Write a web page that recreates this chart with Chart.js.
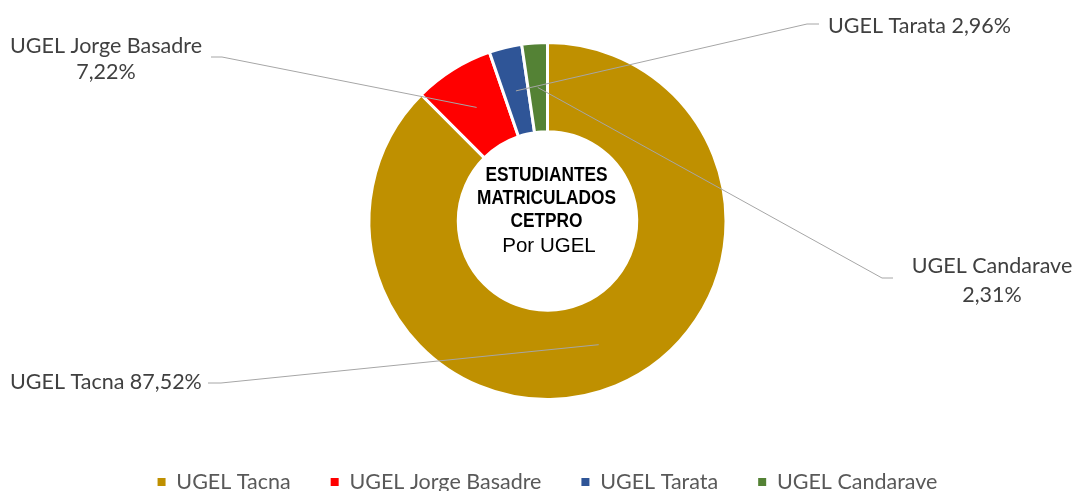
<!DOCTYPE html>
<html>
<head>
<meta charset="utf-8">
<script src="https://cdn.jsdelivr.net/npm/chart.js@4/dist/chart.umd.min.js"></script>
<style>
  html, body { margin: 0; padding: 0; background: #ffffff; }
  #wrap { position: relative; width: 1075px; height: 491px; }
</style>
</head>
<body>
<div id="wrap"><canvas id="c" width="1075" height="491"></canvas></div>
<script>
// ---- Data ----
const categories = ['UGEL Tacna', 'UGEL Jorge Basadre', 'UGEL Tarata', 'UGEL Candarave'];
const percentages = [87.52, 7.22, 2.96, 2.31];
const sliceColors = ['#BF9000', '#FF0000', '#2F5597', '#548235'];
const centerTitleLines = ['ESTUDIANTES', 'MATRICULADOS', 'CETPRO'];
const centerSubtitle = 'Por UGEL';

// ---- Label layout (annotation placement) ----
const LABEL_FONT = '21.5px Lato, "Open Sans", sans-serif';
const labelLayout = [
  // Tacna
  { split: false, align: 'left', x: 10, baselines: [389], elbow: [[208, 383], [221, 383]] },
  // Jorge Basadre
  { split: true, align: 'center', x: 106, baselines: [52.5, 78.5], elbow: [[211, 57], [222, 57]] },
  // Tarata
  { split: false, align: 'left', x: 828, baselines: [32.5], elbow: [[819, 24], [807, 24]] },
  // Candarave
  { split: true, align: 'center', x: 992, baselines: [273, 302], elbow: [[893, 278], [882, 278]] }
];

function fmtPct(v) { return v.toFixed(2).replace('.', ',') + '%'; }

const labelsPlugin = {
  id: 'outLabels',
  afterDatasetsDraw(chart) {
    const ctx = chart.ctx;
    const meta = chart.getDatasetMeta(0);
    ctx.save();
    // leader lines
    ctx.strokeStyle = '#A6A6A6';
    ctx.lineWidth = 1;
    meta.data.forEach((arc, i) => {
      const p = arc.tooltipPosition();
      const L = labelLayout[i];
      ctx.beginPath();
      ctx.moveTo(L.elbow[0][0], L.elbow[0][1]);
      ctx.lineTo(L.elbow[1][0], L.elbow[1][1]);
      ctx.lineTo(p.x, p.y);
      ctx.stroke();
    });
    // label texts
    ctx.fillStyle = '#404040';
    ctx.font = LABEL_FONT;
    ctx.textBaseline = 'alphabetic';
    categories.forEach((name, i) => {
      const L = labelLayout[i];
      const lines = L.split ? [name, fmtPct(percentages[i])] : [name + ' ' + fmtPct(percentages[i])];
      ctx.textAlign = L.align;
      lines.forEach((t, k) => ctx.fillText(t, L.x, L.baselines[k]));
    });
    // center text
    const arc0 = meta.data[0];
    const cx = arc0.x, cy = arc0.y;
    ctx.fillStyle = '#000000';
    ctx.textAlign = 'center';
    ctx.font = 'bold 20px "Liberation Sans", Arial, sans-serif';
    const titleOffsets = [-40, -17, 6.3];
    const narrow = 0.865;
    centerTitleLines.forEach((t, k) => {
      ctx.save();
      ctx.translate(cx - 1, cy + titleOffsets[k]);
      ctx.scale(narrow, 1);
      ctx.fillText(t, 0, 0);
      ctx.restore();
    });
    ctx.font = '20.5px "Liberation Sans", Arial, sans-serif';
    ctx.fillText(centerSubtitle, cx + 1.5, cy + 31);
    ctx.restore();
  }
};

const chart = new Chart(document.getElementById('c'), {
  type: 'doughnut',
  data: {
    labels: categories,
    datasets: [{
      data: percentages,
      backgroundColor: sliceColors,
      borderColor: '#FFFFFF',
      borderWidth: 3,
      hoverOffset: 0
    }]
  },
  options: {
    responsive: false,
    animation: false,
    radius: 178.5,
    cutout: '50%',
    rotation: 0,
    layout: { padding: { top: 10.75, left: 20, right: 0, bottom: -11.75 } },
    plugins: {
      tooltip: { enabled: false },
      legend: {
        display: true,
        position: 'bottom',
        labels: {
          boxWidth: 8,
          boxHeight: 8,
          padding: 40,
          color: '#595959',
          font: { family: 'Lato, "Open Sans", sans-serif', size: 21.5 },
          generateLabels(chart) {
            const base = Chart.overrides.doughnut.plugins.legend.labels.generateLabels(chart);
            return base.map(it => Object.assign(it, { lineWidth: 0, strokeStyle: 'rgba(0,0,0,0)' }));
          }
        }
      }
    }
  },
  plugins: [labelsPlugin]
});
</script>
</body>
</html>
